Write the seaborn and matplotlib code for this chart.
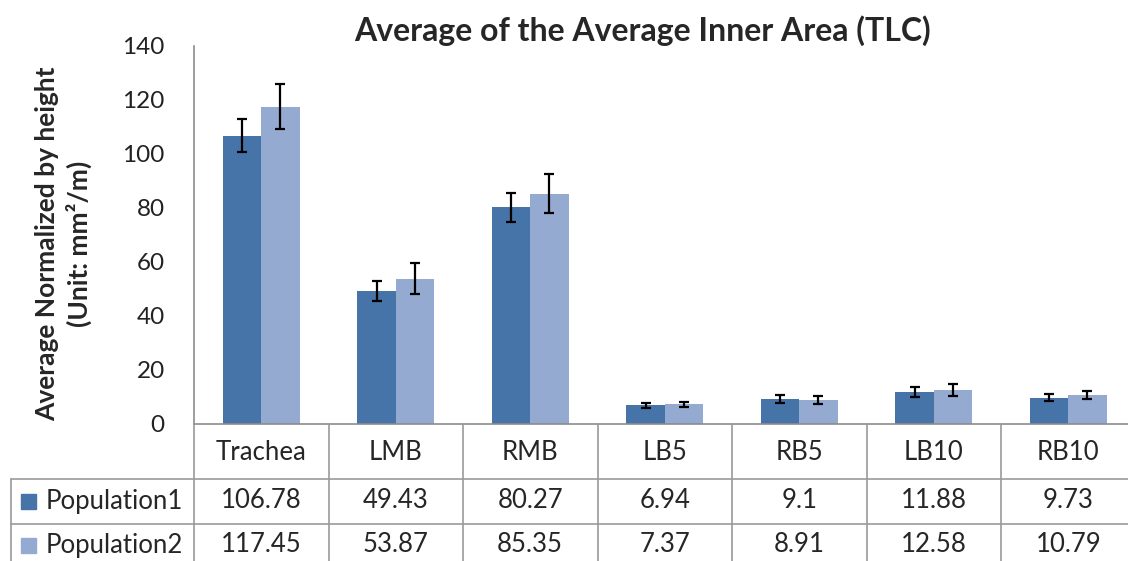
import matplotlib.pyplot as plt
import pandas as pd
import seaborn as sns
from matplotlib.lines import Line2D
from matplotlib.patches import Rectangle

# Data
categories = ["Trachea", "LMB", "RMB", "LB5", "RB5", "LB10", "RB10"]
pop1 = [106.78, 49.43, 80.27, 6.94, 9.1, 11.88, 9.73]
pop2 = [117.45, 53.87, 85.35, 7.37, 8.91, 12.58, 10.79]
err1 = [6.1, 3.7, 5.4, 1.0, 1.5, 1.7, 1.25]
err2 = [8.3, 5.7, 7.3, 0.95, 1.4, 2.2, 1.6]
series = ["Population1", "Population2"]
colors = ["#4673A8", "#95AAD0"]
yticks = [0, 20, 40, 60, 80, 100, 120, 140]

df = pd.DataFrame({
    "category": categories * 2,
    "value": pop1 + pop2,
    "series": [series[0]] * len(categories) + [series[1]] * len(categories),
})

sns.set_theme(style="white")
plt.rcParams["font.family"] = ["Lato", "DejaVu Sans"]

W, H = 1128, 561
fig = plt.figure(figsize=(W / 100, H / 100), dpi=100)

# plot area in pixel coordinates of the reference
x0, x1 = 194, 1135.5
ytop, ybot = 46, 424
ax = fig.add_axes([x0 / W, 1 - ybot / H, (x1 - x0) / W, (ybot - ytop) / H])

sns.barplot(data=df, x="category", y="value", hue="series", palette=colors,
            width=0.57, gap=0, errorbar=None, legend=False, ax=ax,
            saturation=1, linewidth=0)

# error bars on top of each bar
for cont, errs in zip(ax.containers, [err1, err2]):
    xs = [b.get_x() + b.get_width() / 2 for b in cont]
    hs = [b.get_height() for b in cont]
    ax.errorbar(xs, hs, yerr=errs, fmt="none", ecolor="black",
                elinewidth=1.6, capsize=3.6, capthick=1.6)

ax.set_xlim(-0.5, len(categories) - 0.5)
ax.set_ylim(0, 140)
ax.set_yticks(yticks)
ax.set_xticks([])
ax.set_xlabel("")
ax.set_ylabel("")
ax.tick_params(axis="y", length=0, pad=21, labelsize=17.5, colors="#222222")
for s in ["top", "right"]:
    ax.spines[s].set_visible(False)
for s in ["left", "bottom"]:
    ax.spines[s].set_color("#8c8c8c")
    ax.spines[s].set_linewidth(1.2)

fig.text(642 / W, 1 - 31 / H, "Average of the Average Inner Area (TLC)",
         ha="center", va="center", fontsize=23, fontweight="bold")
fig.text(64 / W, 1 - 244 / H, "Average Normalized by height\n(Unit: mm\u00b2/m)",
         ha="center", va="center", rotation=90, fontsize=19,
         fontweight="bold", multialignment="center", linespacing=1.3)

# data table below the chart
def px(x, y):
    return x / W, 1 - y / H

line_kw = dict(color="#9a9a9a", linewidth=1.2, transform=fig.transFigure)
colw = (x1 - x0) / len(categories)
row1, row2 = 478.7, 524
for k in range(len(categories) + 1):
    xv = x0 + k * colw
    fig.add_artist(Line2D(*zip(px(xv, ybot), px(xv, H + 5)), **line_kw))
for yv in [row1, row2]:
    fig.add_artist(Line2D(*zip(px(11, yv), px(W + 10, yv)), **line_kw))
fig.add_artist(Line2D(*zip(px(11, row1), px(11, H + 5)), **line_kw))

for k, cat in enumerate(categories):
    cx = x0 + (k + 0.5) * colw
    fig.text(*px(cx, 452), cat, ha="center", va="center", fontsize=18.5)
    fig.text(*px(cx, 501), f"{pop1[k]:g}", ha="center", va="center", fontsize=18.5)
    fig.text(*px(cx, 545), f"{pop2[k]:g}", ha="center", va="center", fontsize=18.5)

for name, col, yc in zip(series, colors, [501, 545]):
    fig.add_artist(Rectangle(px(21, yc + 7.5), 15 / W, 15 / H, color=col,
                             transform=fig.transFigure))
    fig.text(*px(46, yc), name, ha="left", va="center", fontsize=18.5)

fig.savefig("out.png", dpi=100)
plt.close(fig)
